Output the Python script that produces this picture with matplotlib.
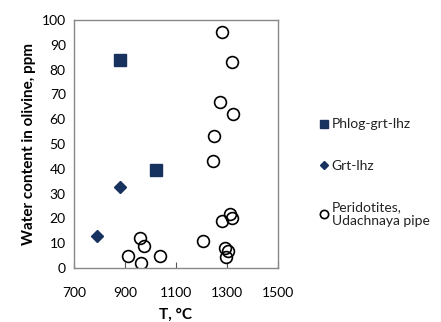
import matplotlib
matplotlib.use("Agg")
import matplotlib.pyplot as plt

# Phlog-grt-lhz
phlog_T = [880, 1020]
phlog_w = [84, 39.5]
# Grt-lhz
grt_T = [790, 880]
grt_w = [13, 32.5]
# Peridotites, Udachnaya pipe
perid_T = [913, 959, 963, 976, 1038, 1207, 1246, 1249, 1273, 1282, 1321, 1325,
           1279, 1312, 1322, 1292, 1305, 1296]
perid_w = [5, 12, 2, 9, 5, 10.8, 43, 53, 67, 95, 83, 62,
           19, 21.8, 20, 8, 6.8, 4.3]

xticks = [700, 900, 1100, 1300, 1500]
yticks = list(range(0, 101, 10))

navy = '#17325f'
plt.rcParams['font.family'] = ['Lato', 'DejaVu Sans']

fig = plt.figure(figsize=(4.41, 3.22), dpi=100)
ax = fig.add_axes([0.168, 0.168, 0.462, 0.770])

ax.plot(phlog_T, phlog_w, 's', color=navy, markersize=8.5, label='Phlog-grt-lhz')
ax.plot(grt_T, grt_w, 'D', color=navy, markersize=6.5, label='Grt-lhz')
ax.plot(perid_T, perid_w, 'o', markerfacecolor='none', markeredgecolor='black',
        markeredgewidth=1.2, markersize=8.5, label='Peridotites,\nUdachnaya pipe')

ax.set_xlim(700, 1500)
ax.set_ylim(0, 100)
ax.set_xticks(xticks)
ax.set_yticks(yticks)
ax.tick_params(axis='x', direction='in', length=4, color='#555555', labelsize=10, pad=14)
ax.tick_params(axis='y', length=0, labelsize=10, pad=6)
for s in ax.spines.values():
    s.set_color('#888888')
    s.set_linewidth(1.0)

ax.set_xlabel('T, °C', fontsize=11, fontweight='bold', labelpad=6)
ax.set_ylabel('Water content in olivine, ppm', fontsize=11, fontweight='bold', labelpad=4)

leg = ax.legend(loc='upper left', bbox_to_anchor=(1.18, 0.625), frameon=False,
                fontsize=10, labelspacing=2.1, handlelength=0.6, handletextpad=0.25,
                markerscale=0.7, borderaxespad=0)
for t in leg.get_texts():
    t.set_color('#222222')

fig.savefig('out.png', dpi=100)
